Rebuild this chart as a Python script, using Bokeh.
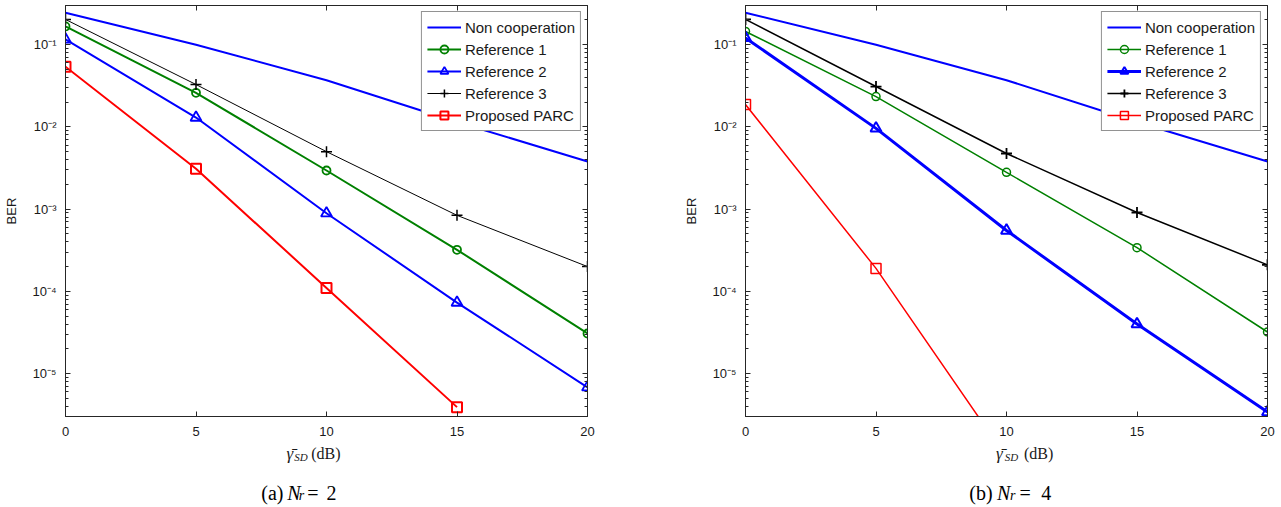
from bokeh.plotting import figure
from bokeh.layouts import row, column
from bokeh.models import (Range1d, FixedTicker, CustomJSTickFormatter, LinearAxis, LogAxis,
                          Legend, LegendItem)
from bokeh.core.properties import value
from bokeh.embed import file_html
from bokeh.resources import INLINE

# ---------------- data ----------------
snr_db = [0, 5, 10, 15, 20]
series_names = ["Non cooperation", "Reference 1", "Reference 2", "Reference 3", "Proposed PARC"]
x_ticks = [0, 5, 10, 15, 20]
y_decades = [1e-5, 1e-4, 1e-3, 1e-2, 1e-1]

# (a) N_r = 2
nr2_noncoop = [0.245, 0.10, 0.037, 0.0115, 0.0038]
nr2_ref1 = [0.167, 0.026, 2.95e-3, 3.2e-4, 3.07e-5]
nr2_ref2 = [0.116, 0.013, 8.9e-4, 7.3e-5, 6.8e-6]
nr2_ref3 = [0.203, 0.0328, 5.0e-3, 8.4e-4, 2.0e-4]
nr2_parc = [0.054, 3.1e-3, 1.1e-4, 3.9e-6]

# (b) N_r = 4
nr4_noncoop = [0.245, 0.10, 0.037, 0.0115, 0.0038]
nr4_ref1 = [0.145, 0.0234, 2.8e-3, 3.4e-4, 3.2e-5]
nr4_ref2 = [0.121, 9.6e-3, 5.5e-4, 4.0e-5, 3.4e-6]
nr4_ref3 = [0.203, 0.031, 4.75e-3, 9.1e-4, 2.1e-4]
nr4_parc = [0.0187, 1.9e-4, 9.5e-7]

Y_LO, Y_HI = 3.0e-6, 0.30
SANS = "Liberation Sans"
SERIF = "Liberation Serif"
AX = "#262626"
PLOT_H = 442
CAP_H = 63
FRAME_BOTTOM = 416
TEXT_SHIFT = 6  # text glyphs render a little low; lift them

minor_y = [k * 10.0 ** e for e in range(-6, 0) for k in range(2, 10)]

sup_js = """
const e = Math.round(Math.log10(tick));
const sup = {"-": "\u207b", "0": "\u2070", "1": "\u00b9", "2": "\u00b2", "3": "\u00b3",
             "4": "\u2074", "5": "\u2075", "6": "\u2076", "7": "\u2077", "8": "\u2078", "9": "\u2079"};
return "10" + String(e).split("").map(c => sup[c]).join("");
"""


def style_axis(ax, labels=True):
    ax.axis_line_color = AX
    ax.major_tick_line_color = AX
    ax.minor_tick_line_color = AX
    ax.major_tick_in = 5
    ax.major_tick_out = 0
    ax.minor_tick_in = 3
    ax.minor_tick_out = 0
    if labels:
        ax.major_label_text_font = SANS
        ax.major_label_text_font_size = "13px"
        ax.major_label_text_color = "#1a1a1a"
    else:
        ax.major_label_text_font_size = "0px"
        ax.major_label_standoff = 0
        ax.formatter = CustomJSTickFormatter(code="return '';")


def make_plot(width, border_right, data, widths, mk_widths):
    p = figure(width=width, height=PLOT_H, x_range=Range1d(0, 20), y_range=Range1d(Y_LO, Y_HI),
               y_axis_type="log", output_backend="svg", toolbar_location=None, title=None,
               min_border_left=65, min_border_right=border_right, min_border_top=5,
               min_border_bottom=PLOT_H - FRAME_BOTTOM, background_fill_color="white",
               border_fill_color="white")
    p.grid.visible = False
    p.outline_line_color = AX
    p.outline_line_width = 1

    xt = FixedTicker(ticks=x_ticks, minor_ticks=[])
    yt = FixedTicker(ticks=y_decades, minor_ticks=minor_y)

    xa = p.xaxis[0]
    xa.ticker = xt
    style_axis(xa)
    xa.major_label_standoff = 10

    ya = p.yaxis[0]
    ya.ticker = yt
    ya.formatter = CustomJSTickFormatter(code=sup_js)
    style_axis(ya)
    ya.major_label_standoff = 9
    ya.axis_label = "BER"
    ya.axis_label_text_font = SANS
    ya.axis_label_text_font_size = "13px"
    ya.axis_label_text_font_style = "normal"
    ya.axis_label_text_color = "#1a1a1a"
    ya.axis_label_standoff = 10

    top = LinearAxis(ticker=xt)
    style_axis(top, labels=False)
    p.add_layout(top, "above")
    right = LogAxis(ticker=yt)
    style_axis(right, labels=False)
    p.add_layout(right, "right")

    colors = ["#0000ff", "#008000", "#0000ff", "#000000", "#ff0000"]
    markers = [None, "circle", "triangle", "cross", "square"]
    msizes = [0, 8, 11, 11, 10]
    items = []
    for name, ys, c, m, ms, lw, mw in zip(series_names, data, colors, markers, msizes,
                                          widths, mk_widths):
        xs = snr_db[:len(ys)]
        r_line = p.line(xs, ys, line_color=c, line_width=lw)
        rs = [r_line]
        if m is not None:
            r_pt = p.scatter(xs, ys, marker=m, size=ms, line_color=c, fill_color=None,
                             line_width=mw)
            rs.append(r_pt)
        items.append(LegendItem(label=name, renderers=rs))

    legend = Legend(items=items, location="top_right", margin=6, padding=5, spacing=2,
                    label_height=20, glyph_height=20, glyph_width=34, label_standoff=4,
                    label_text_font=SANS, label_text_font_size="15px",
                    label_text_color="#1a1a1a",
                    border_line_color=AX, border_line_width=1,
                    background_fill_color="white", background_fill_alpha=1.0)
    p.add_layout(legend)
    return p


def make_caption(width, tag, nval):
    # blank strip under each plot holding the x-axis title and the sub-caption;
    # coordinates are pixels of this strip (origin bottom-left)
    c = figure(width=width, height=CAP_H, x_range=Range1d(0, width), y_range=Range1d(0, CAP_H),
               output_backend="svg", toolbar_location=None, title=None, min_border=0,
               x_axis_location=None, y_axis_location=None,
               background_fill_color="white", border_fill_color="white")
    c.grid.visible = False
    c.outline_line_color = None
    base = PLOT_H + CAP_H + TEXT_SHIFT  # page y (from top) -> strip y (from bottom)

    def t(x, wy, text, size, style="normal", align="left", color="#1a1a1a"):
        c.text(x=[x], y=[base - wy], text=[text], text_font=value(SERIF),
               text_font_style=style, text_font_size=size, text_color=color,
               text_baseline="alphabetic", text_align=align)

    # x-axis title  gamma-bar_SD (dB)
    t(288, 459, "\u03b3\u0304", "17px", style="italic")
    t(298, 462, "SD", "11px", style="italic")
    t(320, 459, "(dB)", "16px")
    # sub-caption
    t(284, 498, tag, "20px", align="right", color="black")
    t(289, 498, "N", "20px", style="italic", color="black")
    t(304, 501, "r", "14px", style="italic", color="black")
    t(315, 498, "=", "20px", color="black")
    t(340, 498, nval, "20px", color="black")
    return c


W1, W2 = 680, 600
p1 = make_plot(W1, 93, [nr2_noncoop, nr2_ref1, nr2_ref2, nr2_ref3, nr2_parc],
               [2, 2, 2, 1, 2], [0, 1.8, 1.8, 1.5, 2])
p2 = make_plot(W2, 13, [nr4_noncoop, nr4_ref1, nr4_ref2, nr4_ref3, nr4_parc],
               [2, 1.5, 3, 1.5, 1.5], [0, 1.5, 2, 1.8, 1.5])
c1 = make_caption(W1, "(a)", "2")
c2 = make_caption(W2, "(b)", "4")

layout = row(column(p1, c1), column(p2, c2))
open("out.html", "w").write(file_html(layout, INLINE))
